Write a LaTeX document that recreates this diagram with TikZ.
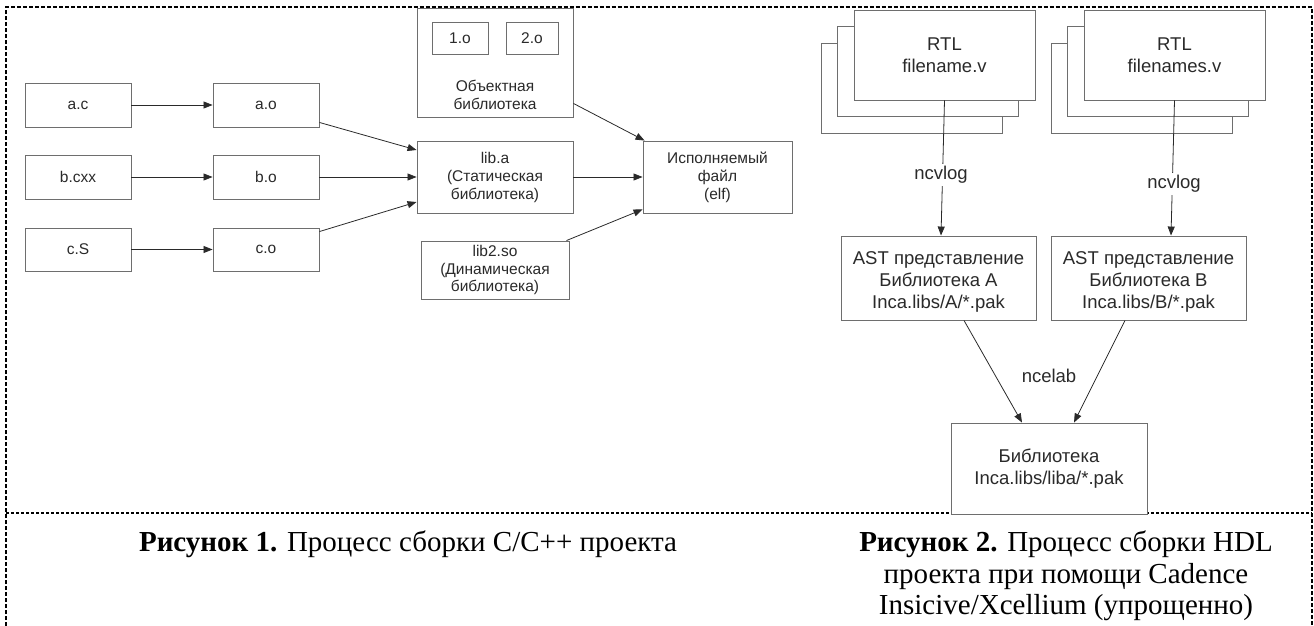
\documentclass[tikz,border=0pt]{standalone}
\usepackage{fontspec}
\setmainfont{Liberation Serif}
\setsansfont{Liberation Sans}
\usetikzlibrary{arrows.meta}
\definecolor{boxgray}{HTML}{6E6E6E}
\definecolor{txtgray}{HTML}{2A2A2A}
\definecolor{arrgray}{HTML}{2A2A2A}
\tikzset{
  framepen/.style={line width=2pt, dash pattern=on 4pt off 2pt, black},
  box/.style={draw=boxgray, line width=0.9pt, fill=white, text=txtgray, align=center, inner sep=0pt,
    font=\sffamily\fontsize{15.5}{18}\selectfont},
  bigbox/.style={box, font=\sffamily\fontsize{18.5}{22}\selectfont},
  lbl/.style={text=txtgray, align=center, inner sep=2pt, font=\sffamily\fontsize{15.5}{18}\selectfont},
  biglbl/.style={lbl, fill=white, font=\sffamily\fontsize{18.5}{22}\selectfont},
  arr/.style={draw=arrgray, line width=0.8pt, -{Triangle[length=9pt,width=7pt]}},
  captxt/.style={align=center, inner sep=0pt, text=black, font=\rmfamily\fontsize{29}{31.5}\selectfont}
}
\begin{document}
\begin{tikzpicture}[x=1pt,y=-1pt]
\useasboundingbox (0,0) rectangle (1314,626);
% frame
\draw[framepen] (6,626) -- (6,7.5) -- (1312,7.5) -- (1312,626);
\draw[framepen, line width=1.6pt, dash pattern=on 3pt off 2pt] (6,513) -- (1312,513);

% ---------- left diagram ----------
\node[box, minimum width=106pt, minimum height=44pt] (ac) at (78,105) {a.c};
\node[box, minimum width=106pt, minimum height=44pt] (ao) at (266,105) {a.o};
\node[box, minimum width=106pt, minimum height=44pt] (bc) at (78,177) {b.cxx};
\node[box, minimum width=106pt, minimum height=44pt] (bo) at (266,177) {b.o};
\node[box, minimum width=106pt, minimum height=43pt] (cs) at (78,249.5) {c.S};
\node[box, minimum width=106pt, minimum height=43pt] (co) at (266,249.5) {c.o};

\node[box, minimum width=156pt, minimum height=109pt] (objlib) at (495,62.5) {};
\node[box, minimum width=56pt, minimum height=32pt] (o1) at (460,38) {1.o};
\node[box, minimum width=52pt, minimum height=32pt] (o2) at (532,38) {2.o};
\node[lbl] (objtxt) at (495,95) {Объектная\\библиотека};

\node[box, minimum width=156pt, minimum height=72pt] (liba) at (495,177) {lib.a\\(Статическая\\библиотека)};
\node[box, minimum width=149pt, minimum height=72pt] (exec) at (717.5,177) {Исполняемый\\файл\\(elf)};
\node[box, minimum width=148pt, minimum height=58pt, font=\sffamily\fontsize{15.5}{17.5}\selectfont] (lib2) at (495,270) {lib2.so\\(Динамическая\\библиотека)};

\draw[arr] (ac.east) -- (ao.west);
\draw[arr] (bc.east) -- (bo.west);
\draw[arr] (cs.east) -- (co.west);
\draw[arr] ([yshift=5pt]ao.south east) -- ([yshift=27pt]liba.west);
\draw[arr] (bo.east) -- (liba.west);
\draw[arr] ([yshift=-4pt]co.north east) -- ([yshift=-25pt]liba.west);
\draw[arr] (liba.east) -- (exec.west);
\draw[arr] ([yshift=14pt]objlib.south east) -- ([xshift=2pt]exec.north west);
\draw[arr] ([xshift=-3pt]lib2.north east) -- ([yshift=4pt]exec.south west);

% ---------- right diagram ----------
\node[bigbox, minimum width=181pt, minimum height=90pt] (rtlAback) at (911.5,88) {};
\node[bigbox, minimum width=181pt, minimum height=90pt] (rtlAmid) at (928,71.5) {};
\node[bigbox, minimum width=181pt, minimum height=90pt] (rtlA) at (944.5,55) {RTL\\filename.v};

\node[bigbox, minimum width=181pt, minimum height=90pt] (rtlBback) at (1141.5,88) {};
\node[bigbox, minimum width=181pt, minimum height=90pt] (rtlBmid) at (1158,71.5) {};
\node[bigbox, minimum width=181pt, minimum height=90pt] (rtlB) at (1174.5,55) {RTL\\filenames.v};

\node[bigbox, minimum width=195pt, minimum height=84pt] (astA) at (938.5,278) {};
\node[biglbl, fill=none] (astAtxt) at (938.5,282) {AST представление\\Библиотека A\\Inca.libs/A/*.pak};
\node[bigbox, minimum width=195pt, minimum height=84pt] (astB) at (1148.5,278) {};
\node[biglbl, fill=none] (astBtxt) at (1148.5,282) {AST представление\\Библиотека B\\Inca.libs/B/*.pak};

\node[bigbox, minimum width=196pt, minimum height=91pt] (lib) at (1049,468.5) {Библиотека\\Inca.libs/liba/*.pak};

\draw[arr] (rtlA.south) -- ([xshift=2.5pt]astA.north);
\draw[arr] (rtlB.south) -- ([xshift=22.5pt]astB.north);
\node[biglbl] (ncvA) at (941,175) {ncvlog};
\node[biglbl] (ncvB) at (1174,184) {ncvlog};

\draw[arr] ([xshift=25.5pt]astA.south) -- ([xshift=-27pt]lib.north);
\draw[arr] ([xshift=-23.5pt]astB.south) -- ([xshift=25pt]lib.north);
\node[biglbl, fill=none] (ncelab) at (1049,376) {ncelab};

% ---------- captions ----------
\node[captxt] (cap1) at (408,544) {\textbf{Рисунок 1.} Процесс сборки C/C++ проекта};
\node[captxt] (cap2) at (1066,576) {\textbf{Рисунок 2.} Процесс сборки HDL\\проекта при помощи Cadence\\Insicive/Xcellium (упрощенно)};
\end{tikzpicture}
\end{document}
